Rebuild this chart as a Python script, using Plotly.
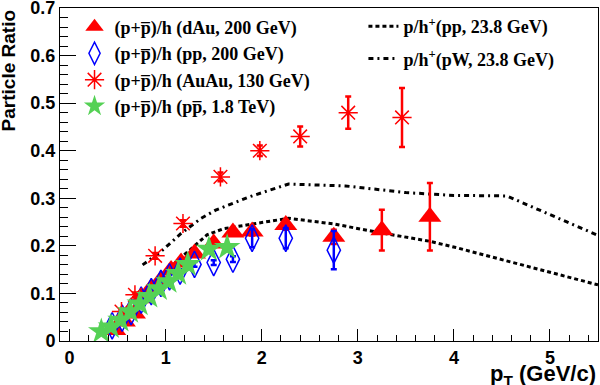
import plotly.graph_objects as go

# dAu 200 GeV (p+pbar)/h
dau_x = [0.47, 0.57, 0.675, 0.745, 0.85, 0.95, 1.056, 1.16, 1.30, 1.50, 1.70, 1.90, 2.25, 2.75, 3.25, 3.75]
dau_y = [0.023, 0.041, 0.058, 0.090, 0.111, 0.128, 0.149, 0.165, 0.184, 0.205, 0.228, 0.230, 0.244, 0.219, 0.233, 0.261]
dau_e = [0.003, 0.003, 0.003, 0.003, 0.004, 0.004, 0.004, 0.004, 0.005, 0.005, 0.006, 0.008, 0.010, 0.015, 0.043, 0.071]

# pp 200 GeV
pp_x = [0.443, 0.547, 0.64, 0.745, 0.85, 0.95, 1.04, 1.15, 1.30, 1.50, 1.70, 1.90, 2.25, 2.75]
pp_y = [0.032, 0.048, 0.062, 0.086, 0.104, 0.121, 0.135, 0.147, 0.161, 0.165, 0.172, 0.216, 0.216, 0.191]
pp_e = [0.003, 0.003, 0.003, 0.003, 0.004, 0.004, 0.004, 0.004, 0.005, 0.005, 0.006, 0.019, 0.021, 0.040]

# AuAu 130 GeV
auau_x = [0.54, 0.68, 0.89, 1.18, 1.57, 1.98, 2.40, 2.90, 3.46]
auau_y = [0.062, 0.097, 0.179, 0.247, 0.345, 0.400, 0.430, 0.480, 0.470]
auau_e = [0.004, 0.005, 0.006, 0.007, 0.009, 0.011, 0.021, 0.034, 0.062]

# ppbar 1.8 TeV
ppbar_x = [0.33, 0.43, 0.53, 0.63, 0.73, 0.83, 0.93, 1.03, 1.13, 1.23, 1.45, 1.64]
ppbar_y = [0.020, 0.030, 0.044, 0.062, 0.078, 0.094, 0.110, 0.125, 0.142, 0.161, 0.193, 0.197]

# p/h+ pp 23.8 GeV
l_pp_x = [0.80, 0.90, 1.00, 1.11, 1.25, 1.43, 1.60, 1.80, 2.00, 2.28, 2.75, 3.22, 3.74, 4.01, 4.53, 5.00, 5.50]
l_pp_y = [0.095, 0.114, 0.139, 0.167, 0.191, 0.223, 0.236, 0.243, 0.249, 0.258, 0.246, 0.228, 0.210, 0.197, 0.170, 0.145, 0.118]

# p/h+ pW 23.8 GeV
l_pw_x = [0.76, 0.95, 1.16, 1.37, 1.52, 1.87, 2.28, 2.87, 3.50, 4.00, 4.55, 5.00, 5.50]
l_pw_y = [0.160, 0.188, 0.226, 0.258, 0.275, 0.303, 0.330, 0.326, 0.312, 0.306, 0.305, 0.265, 0.222]

PB = "p+p\u0305"

fig = go.Figure()

fig.add_trace(go.Scatter(
    x=l_pp_x, y=l_pp_y, mode="lines", name="p/h<sup>+</sup>(pp, 23.8 GeV)",
    line=dict(color="black", width=3, dash="4px,3px"), legend="legend2", legendgroup="a"))
fig.add_trace(go.Scatter(
    x=l_pw_x, y=l_pw_y, mode="lines", name="p/h<sup>+</sup>(pW, 23.8 GeV)",
    line=dict(color="black", width=3, dash="5px,4px,2px,4px"), legend="legend2", legendgroup="b"))

fig.add_trace(go.Scatter(
    x=dau_x, y=dau_y, mode="markers", name=f"({PB})/h (dAu, 200 GeV)",
    marker=dict(symbol="triangle-up", size=20, color="red"),
    error_y=dict(type="data", array=dau_e, color="red", thickness=2.5, width=3)))
fig.add_trace(go.Scatter(
    x=pp_x, y=pp_y, mode="markers", name=f"({PB})/h (pp, 200 GeV)",
    marker=dict(symbol="diamond-tall-open", size=19, color="blue", line=dict(width=1.5, color="blue")),
    error_y=dict(type="data", array=pp_e, color="blue", thickness=2.5, width=3)))
fig.add_trace(go.Scatter(
    x=auau_x, y=auau_y, mode="markers", name=f"({PB})/h (AuAu, 130 GeV)",
    marker=dict(symbol="asterisk-open", size=16, color="red", line=dict(width=1.5, color="red")),
    error_y=dict(type="data", array=auau_e, color="red", thickness=2.5, width=3)))
fig.add_trace(go.Scatter(
    x=ppbar_x, y=ppbar_y, mode="markers", name=f"({PB})/h (pp\u0305, 1.8 TeV)",
    marker=dict(symbol="star", size=20, color="#55d155", line=dict(width=0))))

tickfont = dict(family="Liberation Sans, Arial", size=18, color="black", weight="bold")
legfont = dict(family="Liberation Serif, Times New Roman", size=18, color="black", weight="bold")
fig.update_layout(
    width=600, height=385,
    margin=dict(l=60, r=2, t=8, b=44, autoexpand=False),
    paper_bgcolor="white", plot_bgcolor="white",
    showlegend=True,
    legend=dict(x=0.027, y=0.998, xanchor="left", yanchor="top",
                bgcolor="rgba(0,0,0,0)", tracegroupgap=0, itemwidth=30, font=legfont),
    legend2=dict(x=0.564, y=1.0, xanchor="left", yanchor="top",
                 bgcolor="rgba(0,0,0,0)", tracegroupgap=6, itemwidth=30, font=legfont),
    xaxis=dict(range=[-0.1, 5.5], tickmode="array", tickvals=[0, 1, 2, 3, 4, 5],
               ticks="inside", ticklen=12, tickwidth=1, tickcolor="black", automargin=False,
               minor=dict(ticks="inside", ticklen=6, dtick=0.2, tick0=0, tickcolor="black"),
               showgrid=False, zeroline=False, showline=True, linecolor="black", linewidth=1,
               mirror=True, tickfont=tickfont, ticklabeloverflow="allow"),
    yaxis=dict(range=[0, 0.7], tickmode="array",
               tickvals=[0, 0.1, 0.2, 0.3, 0.4, 0.5, 0.6, 0.7],
               ticktext=["0", "0.1", "0.2", "0.3", "0.4", "0.5", "0.6", "0.7"],
               ticks="inside", ticklen=16, tickwidth=1, tickcolor="black", automargin=False,
               minor=dict(ticks="inside", ticklen=8, dtick=0.02, tick0=0, tickcolor="black"),
               showgrid=False, zeroline=False, showline=True, linecolor="black", linewidth=1,
               mirror=True, tickfont=tickfont, ticklabeloverflow="allow"),
    annotations=[
        dict(text="Particle Ratio", xref="paper", yref="paper", x=-0.095, y=1.0,
             xanchor="center", yanchor="top", textangle=-90, showarrow=False,
             font=dict(family="Liberation Sans, Arial", size=19, color="black", weight="bold")),
        dict(text="p<sub>T</sub> (GeV/c)", xref="paper", yref="paper", x=1.0, y=-0.055,
             xanchor="right", yanchor="top", showarrow=False,
             font=dict(family="Liberation Sans, Arial", size=22, color="black", weight="bold")),
    ],
)

fig.write_html("out.html", config={"displayModeBar": False},
               post_script="document.body.style.margin='0';")
